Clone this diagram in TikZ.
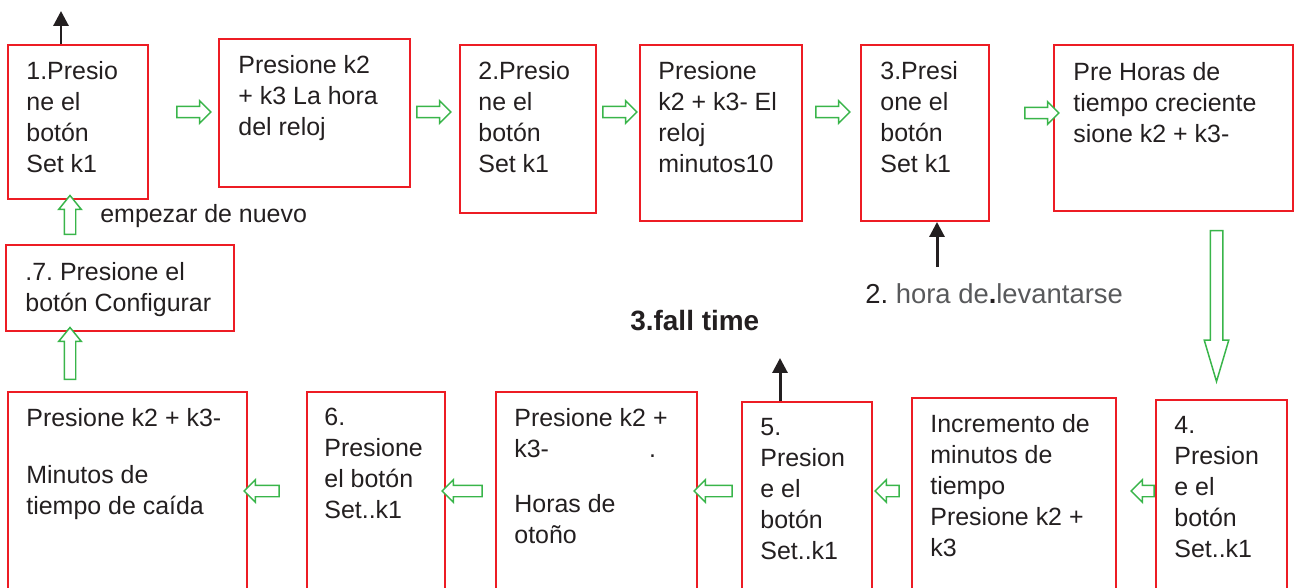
\documentclass[tikz,border=0pt]{standalone}
\usepackage{fontspec}
\setmainfont{Liberation Sans}
\usepackage{xcolor}
\usepackage{tikz}
\usetikzlibrary{arrows.meta, calc, fit, shapes.arrows}
\definecolor{rojocaja}{RGB}{237, 28, 36}
\definecolor{verdeflecha}{RGB}{57, 181, 74}
\definecolor{tinta}{RGB}{35, 31, 32}
\definecolor{gristexto}{RGB}{88, 89, 91}
\frenchspacing

\begin{document}
\begin{tikzpicture}[
    x=0.02cm, y=-0.02cm,
    caja/.style={rectangle, draw=rojocaja, line width=1.1pt, inner sep=0pt},
    texto/.style={anchor=north west, align=left, inner sep=0pt, text=tinta,
                  font=\fontsize{14.2}{17.6}\selectfont},
    nota/.style={anchor=base west, inner sep=0pt, text=tinta,
                 font=\fontsize{14.2}{17.6}\selectfont},
    hueca/.style={single arrow, draw=verdeflecha, fill=white, line width=0.85pt,
                  inner sep=0.1cm, single arrow head extend=0.11cm,
                  single arrow tip angle=90},
    flecha/.style={-{Triangle[length=0.3cm, width=0.3cm]},
                   line width=1.7pt, draw=tinta},
]

\useasboundingbox (0,0) rectangle (1295,588);

% ============================================================
% TOP ROW
% ============================================================
\node[caja, fit={(8,45) (148,199)}] (b1) {};
\node[caja, fit={(219,39) (410,187)}] (b2) {};
\node[caja, fit={(460,45) (596,213)}] (b3) {};
\node[caja, fit={(640,45) (802,221)}] (b4) {};
\node[caja, fit={(861,45) (989,221)}] (b5) {};
\node[caja, fit={(1054,45) (1293,211)}] (b6) {};

\node[texto] (t1) at ([shift={(19,17)}]b1.north west) {1.Presio\\ne el\\botón\\Set k1};
\node[texto] (t2) at ([shift={(20,17)}]b2.north west) {Presione k2\\+ k3 La hora\\del reloj};
\node[texto] (t3) at ([shift={(19,17)}]b3.north west) {2.Presio\\ne el\\botón\\Set k1};
\node[texto] (t4) at ([shift={(19,17)}]b4.north west) {Presione\\k2 + k3- El\\reloj\\minutos10};
\node[texto] (t5) at ([shift={(20,17)}]b5.north west) {3.Presi\\one el\\botón\\Set k1};
\node[texto] (t6) at ([shift={(20,18)}]b6.north west) {Pre Horas de\\tiempo creciente\\sione k2 + k3-};

% ============================================================
% LEFT SIDE
% ============================================================
\node[caja, fit={(6,245) (234,331)}] (b7) {};
\node[texto] (t7) at ([shift={(20,18)}]b7.north west) {.7. Presione el\\botón Configurar};

% ============================================================
% BOTTOM ROW (runs off the lower edge)
% ============================================================
\node[caja, fit={(8,392) (247,595)}] (c1) {};
\node[caja, fit={(307,392) (445,595)}] (c2) {};
\node[caja, fit={(496,392) (697,595)}] (c3) {};
\node[caja, fit={(742,402) (872,595)}] (c4) {};
\node[caja, fit={(912,398) (1116,595)}] (c5) {};
\node[caja, fit={(1156,400) (1287,595)}] (c6) {};

\node[texto] (s1) at ([shift={(19,17)}]c1.north west) {Presione k2 + k3-\\[0.52cm]Minutos de\\tiempo de caída};
\node[texto] (s2) at ([shift={(18,17)}]c2.north west) {6.\\Presione\\el botón\\Set..k1};
\node[texto] (s3) at ([shift={(19,17)}]c3.north west) {Presione k2 +\\k3-\hspace*{2cm}.\\[0.48cm]Horas de\\otoño};
\node[texto] (s4) at ([shift={(19,17)}]c4.north west) {5.\\Presion\\e el\\botón\\Set..k1};
\node[texto] (s5) at ([shift={(19,17)}]c5.north west) {Incremento de\\minutos de\\tiempo\\Presione k2 +\\k3};
\node[texto] (s6) at ([shift={(19,17)}]c6.north west) {4.\\Presion\\e el\\botón\\Set..k1};

% ============================================================
% HOLLOW GREEN ARROWS
% ============================================================
\node[hueca, minimum height=0.68cm] (a12) at (191,112) {};
\node[hueca, minimum height=0.68cm] (a23) at (431,112) {};
\node[hueca, minimum height=0.68cm] (a34) at (617,112) {};
\node[hueca, minimum height=0.68cm] (a45) at (830,112) {};
\node[hueca, minimum height=0.68cm] (a56) at (1039,113) {};

\node[hueca, minimum height=0.70cm, shape border rotate=180] (r21) at (264.5,491) {};
\node[hueca, minimum height=0.80cm, shape border rotate=180] (r32) at (465,491) {};
\node[hueca, minimum height=0.76cm, shape border rotate=180] (r43) at (716,491) {};
\node[hueca, minimum height=0.48cm, shape border rotate=180] (r54) at (890,491) {};
\node[hueca, minimum height=0.46cm, shape border rotate=180] (r65) at (1145.5,491) {};

\node[hueca, minimum height=0.78cm, shape border rotate=90,
      single arrow tip angle=78] (u71) at (70,218.5) {};
\node[hueca, minimum height=1.04cm, shape border rotate=90,
      single arrow tip angle=78] (uc7) at (70,357) {};

\node[hueca, minimum height=3.02cm, shape border rotate=270,
      inner sep=0.11cm, single arrow head extend=0.12cm,
      single arrow tip angle=33] (d6) at (1216.5,295.5) {};

% ============================================================
% LABELS
% ============================================================
\node[nota] (nuevo) at (100,222) {empezar de nuevo};
\node[nota, font=\fontsize{15.9}{19}\selectfont\bfseries] (caida) at (630,330) {3.fall time};
\node[nota, font=\fontsize{15.6}{19}\selectfont] (hora) at (865,303)
    {2. \textcolor{gristexto}{hora de}\textbf{.}\textcolor{gristexto}{levantarse}};

% ============================================================
% BLACK ARROWS
% ============================================================
\coordinate (arriba1) at (61,11);
\coordinate (arriba5) at (780,358);
\coordinate (pie) at (937,267);
\draw[flecha] (arriba1 |- b1.north) -- (arriba1);
\draw[flecha] (arriba5 |- c4.north) -- (arriba5);
\draw[flecha] (pie) -- (pie |- b5.south);

\end{tikzpicture}
\end{document}
